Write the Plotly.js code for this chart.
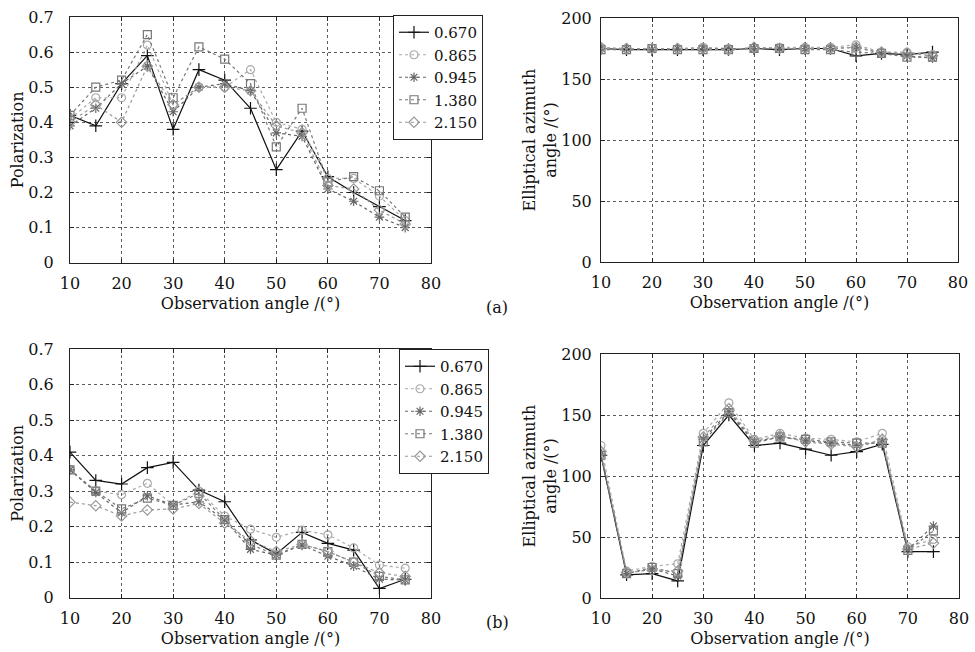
<!DOCTYPE html>
<html><head><meta charset="utf-8">
<script src="https://cdn.plot.ly/plotly-3.0.1.min.js"></script>
<style>body{margin:0;background:#fff}#c{width:975px;height:652px}</style>
</head><body><div id="c"></div>
<script>
const angles = [10,15,20,25,30,35,40,45,50,55,60,65,70,75];
const names = ['0.670','0.865','0.945','1.380','2.150'];

// (a) polarization
const polA_670  = [0.42,0.39,0.51,0.59,0.38,0.55,0.52,0.44,0.265,0.375,0.245,0.20,0.16,0.12];
const polA_865  = [0.41,0.47,0.47,0.62,0.45,0.50,0.50,0.55,0.40,0.38,0.24,0.24,0.19,0.12];
const polA_945  = [0.39,0.44,0.51,0.56,0.43,0.50,0.51,0.49,0.37,0.36,0.21,0.175,0.13,0.10];
const polA_1380 = [0.42,0.50,0.52,0.65,0.47,0.615,0.58,0.51,0.33,0.44,0.23,0.245,0.205,0.13];
const polA_2150 = [0.40,0.45,0.40,0.56,0.45,0.50,0.50,0.49,0.39,0.37,0.22,0.21,0.15,0.11];
// (a) elliptical azimuth
const aziA_670  = [175,174,174,174,174,174,175,174,175,175,169,171,170,172];
const aziA_865  = [176,175,175,175,176,175,175,176,176,176,178,172,172,170];
const aziA_945  = [175,175,174,175,175,175,175,175,175,175,176,171,169,167];
const aziA_1380 = [174,174,175,174,174,174,175,175,174,174,172,171,168,168];
const aziA_2150 = [175,175,175,175,175,174,176,175,175,175,176,172,171,169];
// (b) polarization
const polB_670  = [0.41,0.33,0.32,0.366,0.381,0.303,0.27,0.163,0.123,0.184,0.153,0.134,0.026,0.052];
const polB_865  = [0.36,0.30,0.29,0.322,0.26,0.30,0.23,0.193,0.17,0.19,0.177,0.14,0.092,0.083];
const polB_945  = [0.36,0.296,0.239,0.287,0.261,0.27,0.219,0.136,0.12,0.148,0.117,0.089,0.052,0.05];
const polB_1380 = [0.36,0.30,0.25,0.28,0.26,0.294,0.22,0.15,0.12,0.15,0.13,0.10,0.06,0.05];
const polB_2150 = [0.269,0.259,0.23,0.247,0.25,0.265,0.21,0.16,0.13,0.15,0.13,0.10,0.07,0.06];
// (b) elliptical azimuth
const aziB_670  = [117,19,20,14,125,150,125,127,122,117,120,126,38,38];
const aziB_865  = [125,22,26,28,135,160,130,135,131,130,128,135,42,48];
const aziB_945  = [118,20,24,18,130,153,128,132,129,127,125,128,40,59];
const aziB_1380 = [117,20,25,20,128,152,127,132,130,128,127,127,39,55];
const aziB_2150 = [120,21,23,22,132,155,129,133,128,126,124,130,40,45];

const styles = [
  {sym:'cross-thin-open', col:'#111', dash:'solid', size:9},
  {sym:'circle-open', col:'#aaa', dash:'dot', size:8},
  {sym:'asterisk-open', col:'#666', dash:'dot', size:8},
  {sym:'square-open', col:'#777', dash:'dot', size:8},
  {sym:'diamond-open', col:'#999', dash:'dot', size:8}
];

function series(sets, xa, ya, legend, show) {
  return sets.map((ys, i) => ({
    x: angles, y: ys, name: names[i], type: 'scatter', mode: 'lines+markers',
    xaxis: xa, yaxis: ya, legend: legend, showlegend: show,
    line: {color: styles[i].col, width: 1.2, dash: styles[i].dash},
    marker: {symbol: styles[i].sym, size: styles[i].size, color: styles[i].col,
             line: {color: styles[i].col, width: 1.2}}
  }));
}

const traces = [].concat(
  series([polA_670,polA_865,polA_945,polA_1380,polA_2150], 'x', 'y', 'legend', true),
  series([aziA_670,aziA_865,aziA_945,aziA_1380,aziA_2150], 'x2', 'y2', 'legend', false),
  series([polB_670,polB_865,polB_945,polB_1380,polB_2150], 'x3', 'y3', 'legend2', true),
  series([aziB_670,aziB_865,aziB_945,aziB_1380,aziB_2150], 'x4', 'y4', 'legend2', false)
);

const W = 975, H = 652;
const font = {family: 'DejaVu Serif, Liberation Serif, serif', size: 16, color: '#111'};
function xax(l, r, anchor) {
  return {domain: [l/W, r/W], anchor: anchor, range: [10, 80], dtick: 10, tick0: 10,
    showline: true, linecolor: '#222', linewidth: 1, mirror: 'ticks', ticks: 'inside', ticklen: 4,
    tickcolor: '#222', showgrid: true, gridcolor: '#333', griddash: '3px,3px', gridwidth: 0.8,
    zeroline: false, tickfont: font, automargin: false, ticklabelstandoff: 6,
    title: {text: 'Observation angle /(°)', font: font, standoff: 5}};
}
function yax(t, b, anchor, range, dtick, title, standoff, lblStand) {
  return {domain: [1 - b/H, 1 - t/H], anchor: anchor, range: range, dtick: dtick,
    showline: true, linecolor: '#222', linewidth: 1, mirror: 'ticks', ticks: 'inside', ticklen: 4,
    tickcolor: '#222', showgrid: true, gridcolor: '#333', griddash: '3px,3px', gridwidth: 0.8,
    zeroline: false, tickfont: font, automargin: false, ticklabelstandoff: lblStand,
    title: {text: title, font: font, standoff: standoff}};
}

const legFont = {family: font.family, size: 15, color: '#111'};
const layout = {
  width: W, height: H, margin: {l: 0, r: 0, t: 0, b: 0},
  paper_bgcolor: '#fff', plot_bgcolor: '#fff', font: font,
  xaxis:  xax(70, 431, 'y'),
  yaxis:  yax(17, 262.7, 'x', [0, 0.7], 0.1, 'Polarization', 0, 12),
  xaxis2: xax(601, 958, 'y2'),
  yaxis2: yax(18, 262, 'x2', [0, 200], 50, 'Elliptical azimuth<br>angle /(°)', 0, 5),
  xaxis3: xax(70, 431, 'y3'),
  yaxis3: yax(349, 597.7, 'x3', [0, 0.7], 0.1, 'Polarization', 0, 12),
  xaxis4: xax(601, 959, 'y4'),
  yaxis4: yax(354, 598, 'x4', [0, 200], 50, 'Elliptical azimuth<br>angle /(°)', 0, 5),
  legend: {x: 393/W, y: 1 - 15/H, xanchor: 'left', yanchor: 'top', bgcolor: '#fff',
    bordercolor: '#222', borderwidth: 1, font: legFont, itemwidth: 30, tracegroupgap: 0},
  legend2: {x: 399/W, y: 1 - 349/H, xanchor: 'left', yanchor: 'top', bgcolor: '#fff',
    bordercolor: '#222', borderwidth: 1, font: legFont, itemwidth: 30, tracegroupgap: 0},
  annotations: [
    {text: '(a)', xref: 'paper', yref: 'paper', x: 497/W, y: 1 - 308/H, showarrow: false, font: font},
    {text: '(b)', xref: 'paper', yref: 'paper', x: 497/W, y: 1 - 634/H, showarrow: false, font: font}
  ]
};

Plotly.newPlot('c', traces, layout, {staticPlot: true});
</script></body></html>
